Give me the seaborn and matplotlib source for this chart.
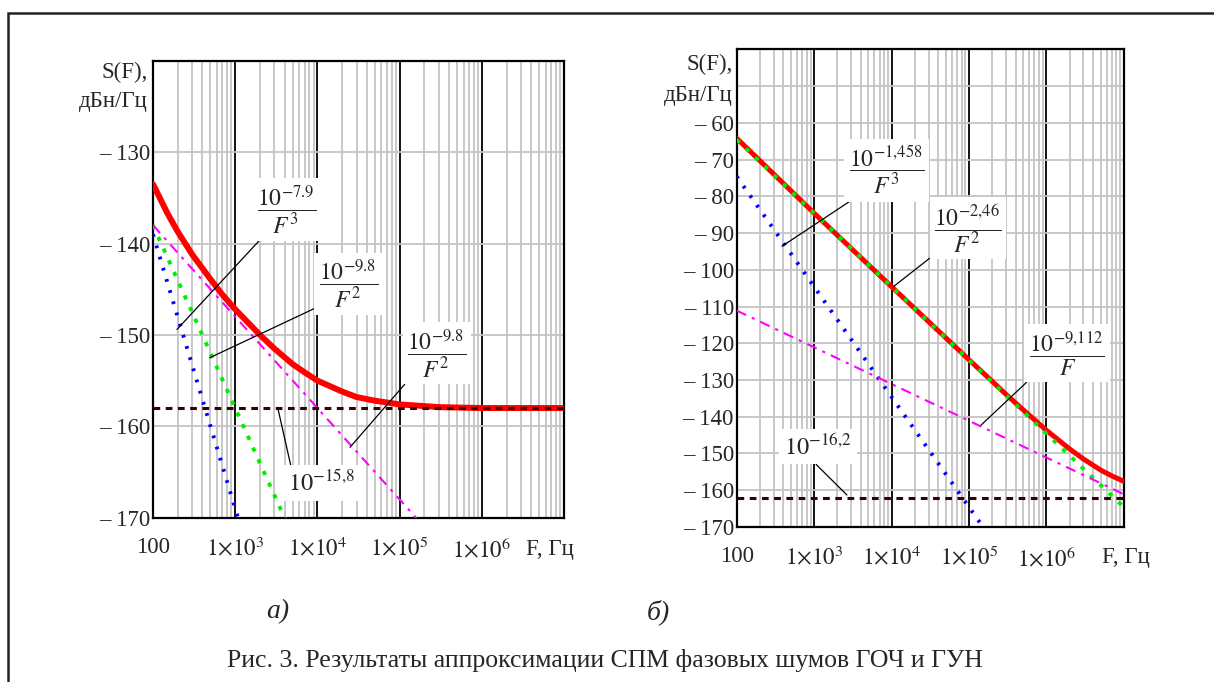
import matplotlib
matplotlib.use('Agg')
import matplotlib.pyplot as plt
from matplotlib.ticker import LogLocator, NullFormatter, FixedLocator
from matplotlib.patches import Rectangle
import seaborn as sns

# Decade grid of frequencies, Hz (used for the straight-line asymptotes)
freq_dec = [1e2, 1e3, 1e4, 1e5, 1e6, 1e7]

# Panel a) - reference oscillator (ГОЧ), dBc/Hz
red_a_freq = [100, 150, 200, 300, 500, 700, 1e3, 2e3, 3e3, 5e3, 7e3, 1e4,
              2e4, 3e4, 5e4, 1e5, 3e5, 1e6, 1e7]
red_a = [-133.5, -136.7, -138.7, -141.2, -143.9, -145.6, -147.2, -150.0,
         -151.5, -153.2, -154.1, -155.0, -156.2, -156.8, -157.2, -157.6,
         -157.9, -158.0, -158.0]
blue_a = [-139, -169, -199, -229, -259, -289]
green_a = [-138, -158, -178, -198, -218, -238]
magenta_a = [-138, -148, -158, -168, -178, -188]
floor_a = [-158, -158, -158, -158, -158, -158]

# Panel b) - VCO (ГУН), dBc/Hz
red_b_freq = [100, 1e3, 1e4, 1e5, 2e5, 3e5, 5e5, 1e6, 2e6, 3e6, 5e6, 7e6, 1e7]
red_b = [-64.2, -84.6, -104.6, -124.5, -130.4, -133.9, -138.1, -143.7,
         -148.8, -151.5, -154.5, -156.1, -157.6]
blue_b = [-74.6, -104.6, -134.6, -164.6, -194.6, -224.6]
green_b = [-64.6, -84.6, -104.6, -124.6, -144.6, -164.6]
magenta_b = [-111.1, -121.1, -131.1, -141.1, -151.1, -161.1]
floor_b = [-162, -162, -162, -162, -162, -162]

xtick_vals = [1e2, 1e3, 1e4, 1e5, 1e6]
xtick_labels = ['100', r'$1{\times}10^{3}$', r'$1{\times}10^{4}$',
                r'$1{\times}10^{5}$', r'$1{\times}10^{6}$']

sns.set_style('white')
plt.rcParams['font.family'] = ['Liberation Serif', 'DejaVu Serif']
plt.rcParams['mathtext.fontset'] = 'stix'

GRID = '#c4c4c4'


def setup_axes(ax, ylo, yhi, ylab_lo, ylab_hi):
    """Mathcad-like log-x grid with black decades and grey minors."""
    ax.set_xscale('log')
    ax.set_xlim(1e2, 1e7)
    ax.set_ylim(ylo, yhi)
    ax.xaxis.set_major_locator(FixedLocator(xtick_vals + [1e7]))
    ax.xaxis.set_minor_locator(LogLocator(base=10, subs=range(2, 10), numticks=20))
    ax.xaxis.set_minor_formatter(NullFormatter())
    ax.set_xticks(xtick_vals + [1e7], xtick_labels + [''])
    yt = list(range(ylo, yhi + 1, 10))
    ax.set_yticks(yt, ['\u2013 %d' % -v if ylab_lo <= v <= ylab_hi else '' for v in yt])
    ax.grid(which='minor', axis='x', color=GRID, lw=1.3)
    ax.grid(which='major', axis='x', color='black', lw=1.3)
    ax.grid(which='major', axis='y', color=GRID, lw=1.3)
    ax.set_axisbelow(True)
    ax.tick_params(which='both', length=0, labelsize=16.5)
    ax.tick_params(axis='x', pad=14)
    ax.tick_params(axis='y', pad=2)
    for sp in ax.spines.values():
        sp.set_visible(True)
        sp.set_color('black')
        sp.set_linewidth(1.6)
    ax.set_xlabel('')
    ax.set_ylabel('')


def draw_curves(ax, rf, red, blue, green, magenta, floor, red_lw):
    sns.lineplot(x=rf, y=red, ax=ax, color='#ff0000', lw=red_lw, zorder=3)
    sns.lineplot(x=freq_dec, y=blue, ax=ax, color='#0000ff', lw=2.8,
                 zorder=4).lines[-1].set_dashes((0.7, 2.3))
    sns.lineplot(x=freq_dec, y=green, ax=ax, color='#00ee00', lw=2.8,
                 zorder=4).lines[-1].set_dashes((1.1, 2.2))
    sns.lineplot(x=freq_dec, y=magenta, ax=ax, color='#ff00ff', lw=1.5,
                 zorder=4).lines[-1].set_dashes((5, 3, 1.5, 3))
    sns.lineplot(x=freq_dec, y=floor, ax=ax, color='#3a0000', lw=2.2,
                 zorder=5).lines[-1].set_dashes((2.2, 1.8))


def label(ax, text, xy, xytext, relpos, size=17):
    ax.annotate(text, xy=xy, xytext=xytext, ha='center', va='center',
                fontsize=size, zorder=6,
                bbox=dict(boxstyle='square,pad=0.2', fc='white', ec='none'),
                arrowprops=dict(arrowstyle='-', color='black', lw=0.9,
                                relpos=relpos, shrinkA=0, shrinkB=0))


fig = plt.figure(figsize=(12.14, 6.82), dpi=100)

# Outer page frame
fig.add_artist(Rectangle((8 / 1214, -0.1), 1.2, 1 - 12.7 / 682 + 0.1,
                         transform=fig.transFigure, fill=False,
                         ec='#222222', lw=1.8))

ax_a = fig.add_axes([0.1260, 0.2409, 0.3386, 0.6701])
ax_b = fig.add_axes([0.6068, 0.2273, 0.3190, 0.7004])

setup_axes(ax_a, -170, -120, -170, -130)
setup_axes(ax_b, -170, -40, -170, -60)

draw_curves(ax_a, red_a_freq, red_a, blue_a, green_a, magenta_a, floor_a, 4.3)
draw_curves(ax_b, red_b_freq, red_b, blue_b, green_b, magenta_b, floor_b, 3.6)

# Formula labels, panel a
label(ax_a, r'$\dfrac{10^{-7.9}}{F^{3}}$', (196, -149.4), (4270, -136.3), (0.1, 0))
label(ax_a, r'$\dfrac{10^{-9.8}}{F^{2}}$', (490, -152.5), (24000, -144.4), (0.05, 0.1))
label(ax_a, r'$\dfrac{10^{-9.8}}{F^{2}}$', (24900, -162.3), (285000, -152.0), (0.1, 0.1))
label(ax_a, r'$10^{-15{,}8}$', (3300, -158.0), (11380, -166.2), (0.05, 1), size=17.5)

# Formula labels, panel b
label(ax_b, r'$\dfrac{10^{-1{,}458}}{F^{3}}$', (385, -93.6), (8710, -72.9), (0.1, 0))
label(ax_b, r'$\dfrac{10^{-2{,}46}}{F^{2}}$', (10700, -104.5), (96900, -88.7), (0.1, 0.1))
label(ax_b, r'$\dfrac{10^{-9{,}112}}{F}$', (142600, -142.3), (1.84e6, -122.7), (0.1, 0.1))
label(ax_b, r'$10^{-16{,}2}$', (2655, -161.3), (1122, -148.2), (0.4, 0), size=17.5)

# Axis captions (Mathcad style, placed by hand)
W, H = 1214, 682
fig.text(148 / W, 1 - 72 / H, 'S(F),', ha='right', va='center', fontsize=16.5)
fig.text(148 / W, 1 - 102 / H, 'дБн/Гц', ha='right', va='center', fontsize=16.5)
fig.text(733 / W, 1 - 64 / H, 'S(F),', ha='right', va='center', fontsize=16.5)
fig.text(733 / W, 1 - 96 / H, 'дБн/Гц', ha='right', va='center', fontsize=16.5)
fig.text(550 / W, 1 - 550 / H, 'F, Гц', ha='center', va='center', fontsize=16.5)
fig.text(1126 / W, 1 - 557 / H, 'F, Гц', ha='center', va='center', fontsize=16.5)

fig.text(278 / W, 1 - 612 / H, 'а)', ha='center', va='center', fontsize=20, style='italic')
fig.text(658 / W, 1 - 612 / H, 'б)', ha='center', va='center', fontsize=20, style='italic')
fig.text(605 / W, 1 - 661 / H, 'Рис. 3. Результаты аппроксимации СПМ фазовых шумов ГОЧ и ГУН',
         ha='center', va='center', fontsize=18.5)

fig.savefig('out.png', dpi=100)
